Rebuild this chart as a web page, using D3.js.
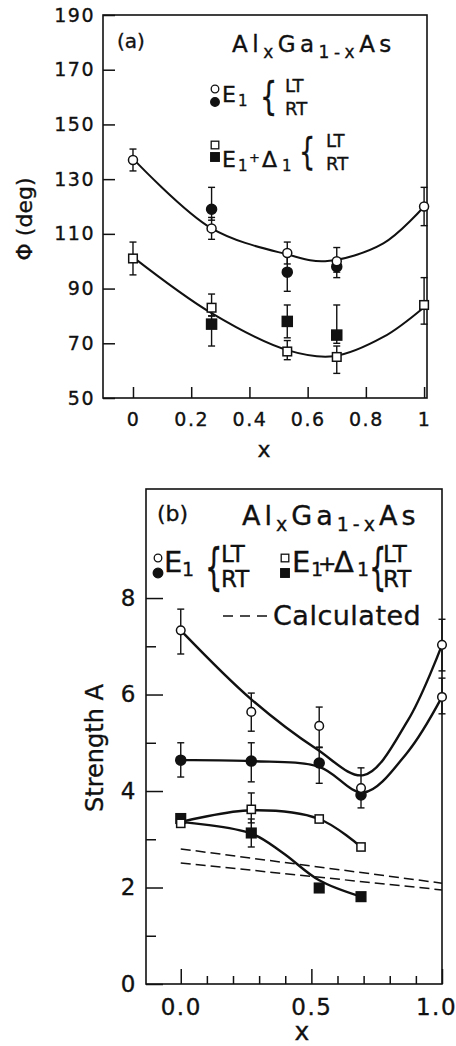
<!DOCTYPE html>
<html>
<head>
<meta charset="utf-8">
<script src="https://cdn.jsdelivr.net/npm/d3@7"></script>
<style>
body { margin: 0; background: #fff; }
text { font-family: "DejaVu Sans", sans-serif; fill: #111; stroke: #111; stroke-width: 0.35px; }
</style>
</head>
<body>
<svg width="456" height="1046"></svg>
<script>
// ---------- data, panel (a): phase angle ----------
var xValsA = [0, 0.27, 0.53, 0.70, 1.0];
// [value, low, high], null = no point
var phiE1LT = [[137, 133, 141], [112, 108, 116], [103, 99, 107], [100, 96, 105], [120, 113, 127]];
var phiE1RT = [null, [119, 115, 127], [96, 89, 102], [98, 94, 101], null];
var phiD1LT = [[101, 95, 107], [83, 80, 88], [67, 64, 71], [65, 59, 69], [84, 77, 94]];
var phiD1RT = [null, [77, 69, 80], [78, 72, 84], [73, 70, 84], null];
var fitE1A = [[0, 137.5], [0.27, 112], [0.53, 102.5], [0.66, 100], [0.86, 106.5], [1.0, 120]];
var fitD1A = [[0, 101.5], [0.27, 81], [0.53, 67.5], [0.69, 65.3], [0.86, 72.3], [1.0, 83.2]];
var yTicksA = [50, 70, 90, 110, 130, 150, 170, 190];
var xTicksA = [0, 0.2, 0.4, 0.6, 0.8, 1];

// ---------- data, panel (b): strength ----------
var xValsB = [0, 0.27, 0.53, 0.69, 1.0];
var strE1LT = [[7.33, 6.84, 7.77], [5.64, 5.24, 6.03], [5.35, 4.9, 5.74], [4.06, 3.9, 4.48], [7.03, 6.49, 7.56]];
var strE1RT = [[4.64, 4.29, 5.0], [4.62, 4.19, 5.0], [4.58, 4.16, 4.91], [3.92, 3.65, 4.1], null];
var strE1Extra = [null, null, null, null, [5.95, 5.6, 6.34]];
var strD1LT = [[3.33], [3.62, 3.34, 3.96], [3.42], [2.84], null];
var strD1RT = [[3.43], [3.13, 2.84, 3.42], [1.99], [1.81], null];
var fitE1LTB = [[0, 7.33], [0.27, 5.9], [0.52, 4.87], [0.70, 4.33], [0.87, 5.47], [1.0, 7.03]];
var fitE1RTB = [[0, 4.64], [0.27, 4.62], [0.53, 4.5], [0.70, 3.97], [0.866, 4.79], [1.0, 5.95]];
var fitD1LTB = [[0, 3.36], [0.27, 3.6], [0.53, 3.42], [0.69, 2.84]];
var fitD1RTB = [[0, 3.36], [0.27, 3.12], [0.39, 2.72], [0.53, 2.15], [0.69, 1.81]];
var calcUpper = [[0, 2.8], [1.0, 2.09]];
var calcLower = [[0, 2.51], [1.0, 1.95]];
var yTicksB = [0, 2, 4, 6, 8];
var yMinorB = [1, 3, 5, 7];
var xTicksB = [0, 0.5, 1.0];
var xMinorB = [0.1, 0.2, 0.3, 0.4, 0.6, 0.7, 0.8, 0.9];

var svg = d3.select("svg");

var xA = d3.scaleLinear().domain([-0.103, 1.01]).range([103, 427]);
var yA = d3.scaleLinear().domain([50, 190]).range([398, 15]);
var xB = d3.scaleLinear().domain([-0.133, 1.0]).range([146, 442]);
var yB = d3.scaleLinear().domain([0, 10.26]).range([984, 489]);

// frame + axes
function frame(x, y) {
    svg.append("rect")
        .attr("x", x.range()[0])
        .attr("y", y.range()[1])
        .attr("width", x.range()[1] - x.range()[0])
        .attr("height", y.range()[0] - y.range()[1])
        .attr("fill", "none")
        .attr("stroke", "#111")
        .attr("stroke-width", 1.6);
}

function axis(ax, transform, size) {
    var g = svg.append("g")
        .attr("transform", transform)
        .call(ax);
    g.select(".domain").remove();
    g.selectAll("line").attr("stroke", "#111").attr("stroke-width", 1.5);
    g.attr("font-family", null).attr("font-size", size).attr("letter-spacing", 1.5);
    return g;
}

frame(xA, yA);
axis(d3.axisLeft(yA).tickValues(yTicksA).tickSize(-12).tickPadding(8).tickFormat(d3.format("")),
     "translate(103,0)", 19);
axis(d3.axisBottom(xA).tickValues(xTicksA).tickSize(-11).tickPadding(15).tickFormat(d3.format("")),
     "translate(0,398)", 19);

frame(xB, yB);
axis(d3.axisLeft(yB).tickValues(yTicksB).tickSize(-17).tickPadding(9).tickFormat(d3.format("")),
     "translate(146,0)", 23);
axis(d3.axisLeft(yB).tickValues(yMinorB).tickSize(-10).tickFormat(""),
     "translate(146,0)", 23);
axis(d3.axisBottom(xB).tickValues(xTicksB).tickSize(-15).tickPadding(15).tickFormat(d3.format(".1f")),
     "translate(0,984)", 23)
    .selectAll("text").attr("dx", d => d == 1 ? -6 : 0);
axis(d3.axisBottom(xB).tickValues(xMinorB).tickSize(-8).tickFormat(""),
     "translate(0,984)", 23);

// fitted curves
function curve(pts, x, y, width, dash) {
    svg.append("path")
        .datum(pts)
        .attr("fill", "none")
        .attr("stroke", "#111")
        .attr("stroke-width", width)
        .attr("stroke-dasharray", dash || null)
        .attr("d", d3.line()
            .x(d => x(d[0]))
            .y(d => y(d[1]))
            .curve(d3.curveCatmullRom.alpha(0.5)));
}

curve(fitE1A, xA, yA, 2);
curve(fitD1A, xA, yA, 2);
curve(fitE1LTB, xB, yB, 2.4);
curve(fitE1RTB, xB, yB, 2.4);
curve(fitD1LTB, xB, yB, 2.4);
curve(fitD1RTB, xB, yB, 2.4);
curve(calcUpper, xB, yB, 1.5, "10,5");
curve(calcLower, xB, yB, 1.5, "10,5");

// error bars + markers
function points(xs, series, x, y, shape, filled, size) {
    var data = series.map((d, i) => d && { x: xs[i], v: d[0], lo: d[1], hi: d[2] })
        .filter(d => d);
    var g = svg.append("g");
    data.filter(d => d.lo != null).forEach(function(d) {
        g.append("line")
            .attr("x1", x(d.x)).attr("x2", x(d.x))
            .attr("y1", y(d.lo)).attr("y2", y(d.hi))
            .attr("stroke", "#111").attr("stroke-width", 1.4);
        [d.lo, d.hi].forEach(function(e) {
            g.append("line")
                .attr("x1", x(d.x) - 3.5).attr("x2", x(d.x) + 3.5)
                .attr("y1", y(e)).attr("y2", y(e))
                .attr("stroke", "#111").attr("stroke-width", 1.4);
        });
    });
    if (shape == "circle") {
        g.selectAll("circle.m").data(data).enter().append("circle")
            .attr("cx", d => x(d.x))
            .attr("cy", d => y(d.v))
            .attr("r", filled ? size : size - 0.7)
            .attr("fill", filled ? "#111" : "#fff")
            .attr("stroke", "#111")
            .attr("stroke-width", 1.5);
    } else {
        var s = filled ? size * 2 : size * 2 - 1.4;
        g.selectAll("rect.m").data(data).enter().append("rect")
            .attr("x", d => x(d.x) - s / 2)
            .attr("y", d => y(d.v) - s / 2)
            .attr("width", s)
            .attr("height", s)
            .attr("fill", filled ? "#111" : "#fff")
            .attr("stroke", "#111")
            .attr("stroke-width", 1.5);
    }
}

points(xValsA, phiE1RT, xA, yA, "circle", true, 5);
points(xValsA, phiE1LT, xA, yA, "circle", false, 5.2);
points(xValsA, phiD1RT, xA, yA, "rect", true, 5);
points(xValsA, phiD1LT, xA, yA, "rect", false, 5);

points(xValsB, strE1RT, xB, yB, "circle", true, 5);
points(xValsB, strE1LT, xB, yB, "circle", false, 5);
points(xValsB, strE1Extra, xB, yB, "circle", false, 5);
points(xValsB, strD1RT, xB, yB, "rect", true, 4.8);
points(xValsB, strD1LT, xB, yB, "rect", false, 4.8);

// ---------- texts ----------
function txt(x, y, size, s, anchor) {
    return svg.append("text")
        .attr("x", x).attr("y", y)
        .attr("font-size", size)
        .attr("text-anchor", anchor || "start")
        .text(s);
}

function formula(x, y, size, sub, spacing) {
    var t = svg.append("text")
        .attr("x", x).attr("y", y)
        .attr("font-size", size)
        .attr("letter-spacing", spacing);
    t.append("tspan").text("Al");
    t.append("tspan").attr("font-size", sub).attr("dy", 6).text("x");
    t.append("tspan").attr("dy", -6).text("Ga");
    t.append("tspan").attr("font-size", sub).attr("dy", 6).text("1-x");
    t.append("tspan").attr("dy", -6).text("As");
}

function brace(x, top, bottom, sx) {
    var fs = (bottom - top) / 0.9;
    svg.append("text")
        .attr("transform", "translate(" + x + "," + (bottom - 0.13 * fs) + ") scale(" + sx + ",1)")
        .attr("font-size", fs)
        .text("{");
}

function sym(cx, cy, shape, filled, r) {
    if (shape == "circle") {
        svg.append("circle").attr("cx", cx).attr("cy", cy).attr("r", r)
            .attr("fill", filled ? "#111" : "#fff").attr("stroke", "#111").attr("stroke-width", 1.3);
    } else {
        svg.append("rect").attr("x", cx - r).attr("y", cy - r).attr("width", 2 * r).attr("height", 2 * r)
            .attr("fill", filled ? "#111" : "#fff").attr("stroke", "#111").attr("stroke-width", 1.3);
    }
}

// panel (a) texts
txt(117, 48, 20, "(a)");
formula(232, 52, 23, 17, 4.5);

sym(215, 89, "circle", false, 3.8);
sym(215, 102, "circle", true, 4.3);
txt(222, 102, 22, "E");
txt(238, 106, 15, "1");
brace(260, 80, 115, 0.7);
txt(285, 92, 18, "LT");
txt(285, 115, 18, "RT");

sym(215, 145, "rect", false, 3.8);
sym(215, 157, "rect", true, 4.3);
txt(222, 167, 22, "E");
txt(238, 171, 15, "1");
txt(249, 162, 13, "+");
txt(262, 167, 22, "Δ");
txt(282, 171, 15, "1");
brace(299, 137, 170, 0.7);
txt(326, 147, 18, "LT");
txt(326, 170, 18, "RT");

txt(264, 457, 22, "x", "middle");
svg.append("text")
    .attr("transform", "translate(32,219) rotate(-90)")
    .attr("font-size", 22)
    .attr("text-anchor", "middle")
    .text("Φ (deg)");

// panel (b) texts
txt(157, 521, 22, "(b)");
formula(242, 525, 27, 19, 4);

sym(158, 558, "circle", false, 3.8);
sym(158, 573, "circle", true, 4.8);
txt(164, 572, 29, "E");
txt(182, 576, 19, "1");
brace(205, 545, 590, 0.55);
txt(221, 562, 23, "LT");
txt(221, 587, 23, "RT");

sym(285, 558, "rect", false, 3.8);
sym(285, 573, "rect", true, 4.3);
txt(292, 572, 29, "E");
txt(311, 576, 19, "1");
txt(318, 571, 22, "+");
txt(334, 572, 29, "Δ");
txt(357, 576, 19, "1");
brace(369, 545, 590, 0.55);
txt(383, 562, 23, "LT");
txt(383, 587, 23, "RT");

svg.append("line")
    .attr("x1", 223).attr("x2", 268)
    .attr("y1", 616).attr("y2", 616)
    .attr("stroke", "#111").attr("stroke-width", 1.6)
    .attr("stroke-dasharray", "10,7");
txt(273, 625, 27, "Calculated").attr("letter-spacing", 0.5);

txt(302, 1040, 25, "x", "middle");
svg.append("text")
    .attr("transform", "translate(103,748) rotate(-90)")
    .attr("font-size", 24)
    .attr("text-anchor", "middle")
    .text("Strength A");
</script>
</body>
</html>
